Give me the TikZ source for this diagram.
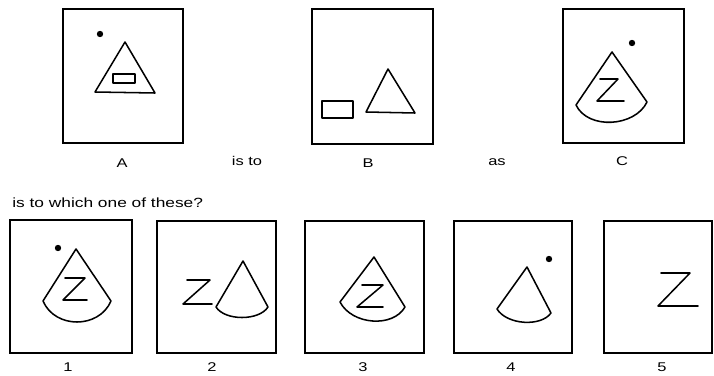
\documentclass[tikz,border=0pt]{standalone}
\usepackage{fontspec}
\setmainfont{Liberation Sans}
\newfontfamily\lblfont[FakeStretch=1.3]{Liberation Sans}
\begin{document}
\begin{tikzpicture}[x=0.75pt,y=-0.75pt,
  frame/.style={line width=1.4pt, line join=miter},
  figline/.style={line width=1.15pt, line join=round, line cap=round},
  lbl/.style={inner sep=0pt, font=\lblfont\fontsize{9.5}{11}\selectfont},
  heading/.style={inner sep=0pt, anchor=west, font=\lblfont\fontsize{10}{12}\selectfont}]
\useasboundingbox[fill=white] (0,0) rectangle (714,375);
% ---- frames
\draw[frame] (63,9) rectangle (183,143);
\draw[frame] (312,9) rectangle (433,144);
\draw[frame] (563,9) rectangle (684,143);
\draw[frame] (10,220) rectangle (132,353);
\draw[frame] (157,221) rectangle (276,353);
\draw[frame] (305,221) rectangle (424,353);
\draw[frame] (454,221) rectangle (572,353);
\draw[frame] (604,221) rectangle (712,353);
% ---- A
\fill (100,34) circle (3.2);
\draw[figline] (125,42) -- (95,92) -- (155,93) -- cycle;
\draw[figline] (113,74) rectangle (135,83);
% ---- B
\draw[figline] (322,101) rectangle (353,118);
\draw[figline] (388,69) -- (366,112) -- (415,113) -- cycle;
% ---- C
\fill (632,43) circle (3.2);
\draw[figline] (647,102) -- (612,52) -- (576,105) .. controls +(12,25) and +(-12,25) .. (647,102);
\draw[figline] (600,79) -- (618,79) -- (597,101) -- (624,101);
% ---- 1
\fill (58,248) circle (3.2);
\draw[figline] (111,301) -- (76,249) -- (43,301) .. controls +(12,28) and +(-12,28) .. (111,301);
\draw[figline] (65,278) -- (85,278) -- (63,300) -- (87,300);
% ---- 2
\draw[figline] (187,280) -- (210,280) -- (183,304) -- (212,304);
\draw[figline] (268,307) -- (243,261) -- (216,307) .. controls +(9,14) and +(-9,14) .. (268,307);
% ---- 3
\draw[figline] (405,307) -- (374,257) -- (340,302) .. controls +(12,23) and +(-12,21) .. (405,307);
\draw[figline] (362,285) -- (383,285) -- (357,307) -- (383,307);
% ---- 4
\fill (549,259) circle (3.2);
\draw[figline] (551,313) -- (527,267) -- (497,309) .. controls +(10,16) and +(-10,14) .. (551,313);
% ---- 5
\draw[figline] (661,273) -- (690,273) -- (658,306) -- (698,306);
% ---- texts
\node[lbl] (la) at (122,163) {A};
\node[lbl] (lb) at (368,163) {B};
\node[lbl] (lc) at (622,161) {C};
\node[lbl] (isto) at (247,161) {is to};
\node[lbl] (as) at (497,162) {as};
\node[heading] (q) at (12,203) {is to which one of these?};
\node[lbl] (l1) at (68,367) {1};
\node[lbl] (l2) at (212,367) {2};
\node[lbl] (l3) at (363,367) {3};
\node[lbl] (l4) at (511,367) {4};
\node[lbl] (l5) at (662,367) {5};
\end{tikzpicture}
\end{document}
